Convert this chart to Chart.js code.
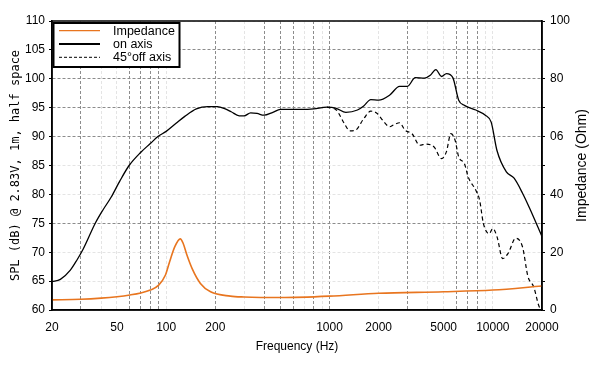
<!DOCTYPE html>
<html>
<head>
<meta charset="utf-8">
<script src="https://cdn.jsdelivr.net/npm/chart.js@4.4.1/dist/chart.umd.min.js"></script>
<style>
    html, body { margin: 0; padding: 0; background: #fff; }
</style>
</head>
<body>
<canvas id="grafico" width="600" height="369"></canvas>
<script>
// Eixo X (Hz)
const freqTicks = [20, 30, 40, 50, 60, 70, 80, 90, 100, 200, 300, 400, 500, 600, 700, 800, 900,
    1000, 2000, 3000, 4000, 5000, 6000, 7000, 8000, 9000, 10000, 20000];
const freqLabels = [20, 50, 100, 200, 1000, 2000, 5000, 10000, 20000];
const freqGridForte = [30, 60, 70, 80, 90, 200, 400, 500, 600, 800, 1000, 3000, 6000, 7000, 8000];
const splGridForte = [75, 90, 95, 100, 105];

// on axis
const freqOnAxis = [20, 22.5, 25.9, 28.5, 31, 36.8, 41, 46, 52, 59.3, 70, 80, 89, 100, 115, 130, 153, 180,
    206, 230, 250, 280, 300, 329, 360, 397, 450, 500, 680, 800, 964, 1100, 1260, 1483, 1620, 1790,
    2000, 2340, 2685, 3000, 3350, 3810, 4140, 4480, 4850, 5200, 5690, 6180, 6700, 7870, 9000, 9770,
    10600, 12100, 13500, 15200, 16800, 20000];
const splOnAxis = [64.9, 65.3, 66.9, 68.7, 70.5, 75, 77.3, 79.5, 82.3, 85, 87.3, 88.8, 90, 90.9,
    92.3, 93.5, 94.8, 95.2, 95.2, 94.8, 94.3, 93.6, 93.6, 94.1, 94.0, 93.7, 94.2, 94.7, 94.7, 94.8,
    95.1, 94.9, 94.2, 94.6, 95.3, 96.4, 96.3, 97.2, 98.7, 98.7, 100.2, 100.1, 100.6, 101.6, 100.4,
    100.9, 100.2, 96.3, 95.4, 94.6, 93.7, 92.5, 87.6, 83.9, 82.8, 80.2, 77.6, 72.7];

// 45° off axis
const freqOffAxis = [964, 1100, 1230, 1330, 1440, 1620, 1790, 1960, 2120, 2340, 2460, 2690, 2900, 3200,
    3570, 3900, 4370, 4850, 5200, 5530, 5870, 6180, 6700, 7070, 7870, 8300, 8750, 9500, 10000, 10600,
    11500, 12400, 13800, 15200, 16400, 17800, 19200, 20000];
const splOffAxis = [95.1, 94.6, 92.3, 91.0, 91.1, 93.1, 94.4, 94.0, 92.8, 91.7, 92.0, 92.4, 91.1, 90.5,
    88.5, 88.7, 88.2, 86.2, 87.4, 90.5, 89.4, 86.5, 85.3, 83.0, 80.7, 79.0, 75.0, 73.2, 74.1, 72.7,
    68.9, 69.8, 72.4, 70.9, 65.8, 64.0, 60.6, 60];

// Impedancia (Ohm)
const freqImp = [20, 30, 40, 50, 60, 70, 80, 90, 99, 105, 113, 122, 127, 134, 144, 162, 187, 247, 300,
    500, 1000, 2000, 5000, 10000, 20000];
const impedancia = [3.5, 3.7, 4.1, 4.6, 5.2, 5.9, 6.9, 8.6, 12.1, 16.7, 21.9, 24.6, 23.1, 19, 14.4,
    9.2, 6.3, 4.8, 4.5, 4.3, 4.8, 5.8, 6.3, 6.9, 8.3];

const tituloSPL = 'SPL (dB) @ 2.83V, 1m, half space';
const tituloImp = 'Impedance (Ohm)';
const tituloFreq = 'Frequency (Hz)';

const corLaranja = '#e8751f';
const fonteTicks = { family: 'Liberation Sans', size: 12 };

const pontos = (xs, ys) => xs.map((x, i) => ({ x: x, y: ys[i] }));

// moldura, titulos dos eixos e legenda
const extras = {
    id: 'extras',
    afterDraw(chart) {
        const { ctx, chartArea: a } = chart;
        ctx.save();
        ctx.strokeStyle = '#000';
        ctx.lineWidth = 1.5;
        ctx.strokeRect(a.left, a.top, a.right - a.left, a.bottom - a.top);

        ctx.fillStyle = '#000';
        ctx.textAlign = 'center';
        ctx.textBaseline = 'middle';
        ctx.font = '12px "Liberation Sans"';
        ctx.fillText(tituloFreq, (a.left + a.right) / 2, 347);

        ctx.save();
        ctx.translate(16, (a.top + a.bottom) / 2);
        ctx.rotate(-Math.PI / 2);
        ctx.font = '12px "DejaVu Sans Mono"';
        ctx.fillText(tituloSPL, 0, 0);
        ctx.restore();

        ctx.save();
        ctx.translate(582, (a.top + a.bottom) / 2);
        ctx.rotate(-Math.PI / 2);
        ctx.font = '14px "Liberation Sans"';
        ctx.fillText(tituloImp, 0, 0);
        ctx.restore();

        // legenda
        const lx = 53.5, ly = 23;
        ctx.fillStyle = '#fff';
        ctx.fillRect(lx, ly, 126, 44);
        ctx.lineWidth = 2;
        ctx.strokeRect(lx, ly, 126, 44);
        const itens = [
            { texto: 'Impedance', cor: corLaranja, largura: 1.2, dash: [] },
            { texto: 'on axis', cor: '#000', largura: 2.2, dash: [] },
            { texto: '45°off axis', cor: '#000', largura: 1, dash: [3, 2] }
        ];
        ctx.font = '12.5px "Liberation Sans"';
        ctx.textAlign = 'left';
        itens.forEach((item, i) => {
            const y = 30.7 + i * 13.3;
            ctx.beginPath();
            ctx.strokeStyle = item.cor;
            ctx.lineWidth = item.largura;
            ctx.setLineDash(item.dash);
            ctx.moveTo(59, y);
            ctx.lineTo(100, y);
            ctx.stroke();
            ctx.setLineDash([]);
            ctx.fillStyle = '#000';
            ctx.fillText(item.texto, 113, y + 0.5);
        });
        ctx.restore();
    }
};

new Chart(document.getElementById('grafico'), {
    type: 'line',
    data: {
        datasets: [
            {
                label: 'Impedance',
                data: pontos(freqImp, impedancia),
                yAxisID: 'y1',
                borderColor: corLaranja,
                borderWidth: 1.6,
                pointRadius: 0,
                cubicInterpolationMode: 'monotone'
            },
            {
                label: 'on axis',
                data: pontos(freqOnAxis, splOnAxis),
                yAxisID: 'y',
                borderColor: '#000',
                borderWidth: 1.3,
                pointRadius: 0,
                cubicInterpolationMode: 'monotone'
            },
            {
                label: '45°off axis',
                data: pontos(freqOffAxis, splOffAxis),
                yAxisID: 'y',
                borderColor: '#000',
                borderWidth: 1.2,
                borderDash: [4, 3],
                pointRadius: 0,
                cubicInterpolationMode: 'monotone'
            }
        ]
    },
    options: {
        responsive: false,
        animation: false,
        devicePixelRatio: 1,
        layout: { padding: { top: 21, left: 0, right: 0, bottom: 0 } },
        plugins: { legend: { display: false }, tooltip: { enabled: false } },
        scales: {
            x: {
                type: 'logarithmic',
                min: 20,
                max: 20000,
                afterBuildTicks: (s) => { s.ticks = freqTicks.map(v => ({ value: v })); },
                afterFit: (s) => { s.height = 59; },
                ticks: {
                    autoSkip: false,
                    maxRotation: 0,
                    padding: 7,
                    color: '#000',
                    font: fonteTicks,
                    callback: (v) => freqLabels.includes(v) ? String(v) : ''
                },
                grid: {
                    color: (c) => freqGridForte.includes(c.tick.value) ? '#8c8c8c' : '#e4e4e4',
                    tickLength: 3,
                    tickColor: 'rgba(0,0,0,0)'
                },
                border: { color: '#000', width: 1.5, dash: [3, 2] }
            },
            y: {
                position: 'left',
                min: 60,
                max: 110,
                afterFit: (s) => { s.width = 52; },
                ticks: { stepSize: 5, padding: 4, color: '#000', font: fonteTicks },
                grid: {
                    color: (c) => splGridForte.includes(c.tick.value) ? '#8c8c8c' : '#e4e4e4',
                    tickLength: 3,
                    tickColor: '#000'
                },
                border: { color: '#000', width: 1.5, dash: [3, 2] }
            },
            y1: {
                position: 'right',
                min: 0,
                max: 100,
                afterFit: (s) => { s.width = 58; },
                ticks: {
                    stepSize: 10,
                    padding: 5,
                    color: '#000',
                    font: fonteTicks,
                    callback: (v) => v % 20 === 0 ? (v === 60 ? '06' : String(v)) : ''
                },
                grid: { drawOnChartArea: false, tickLength: 3, tickColor: '#000' },
                border: { color: '#000', width: 1.5 }
            }
        }
    },
    plugins: [extras]
});
</script>
</body>
</html>
